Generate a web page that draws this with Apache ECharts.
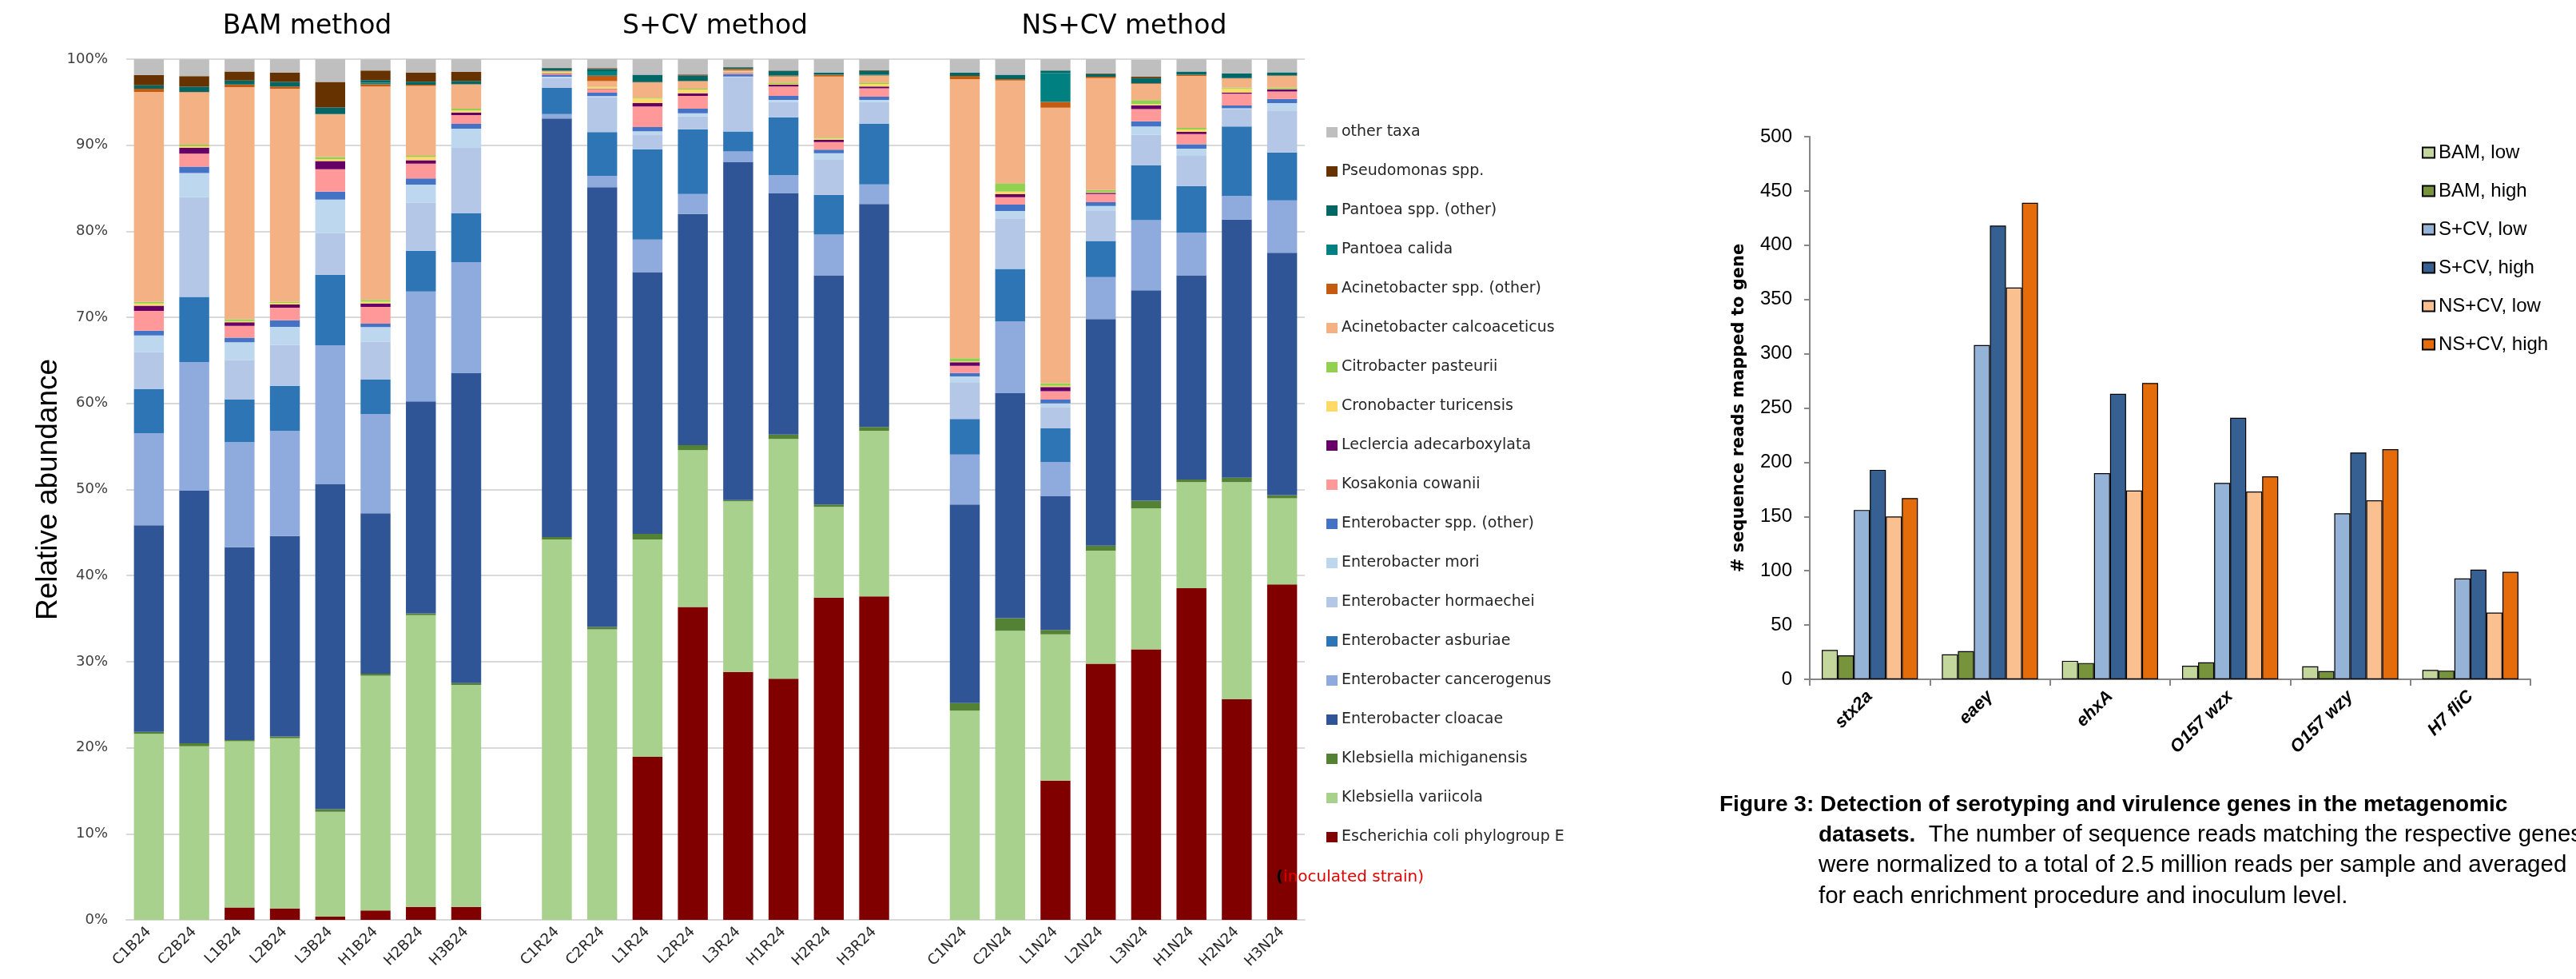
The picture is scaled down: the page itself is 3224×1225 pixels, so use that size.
<!DOCTYPE html>
<html>
<head>
<meta charset="utf-8">
<script src="https://cdn.jsdelivr.net/npm/echarts@6/dist/echarts.min.js"></script>
<style>
  html, body { margin: 0; padding: 0; background: #fff; }
  #chart { width: 3224px; height: 1225px; }
</style>
</head>
<body>
<div id="chart"></div>
<script>
// samples, 8 per enrichment method
const bamSamples = ["C1B24", "C2B24", "L1B24", "L2B24", "L3B24", "H1B24", "H2B24", "H3B24"];
const scvSamples = ["C1R24", "C2R24", "L1R24", "L2R24", "L3R24", "H1R24", "H2R24", "H3R24"];
const nscvSamples = ["C1N24", "C2N24", "L1N24", "L2N24", "L3N24", "H1N24", "H2N24", "H3N24"];

// relative abundance (%), order: BAM x8, S+CV x8, NS+CV x8
const ecoliE = [0, 0, 1.45, 1.3, 0.36, 1.1, 1.52, 1.52, 0, 0, 18.94, 36.36, 28.81, 28.01, 37.45, 37.59, 0, 0, 16.18, 29.75, 31.42, 38.53, 25.62, 38.97];
const klebVariicola = [21.6, 20.17, 19.3, 19.8, 12.19, 27.27, 33.89, 25.77, 44.19, 33.74, 25.25, 18.21, 19.81, 27.87, 10.52, 19.23, 24.31, 33.6, 16.98, 13.14, 16.4, 12.34, 25.25, 10.01];
const klebMichiganensis = [0.25, 0.35, 0.15, 0.2, 0.3, 0.23, 0.2, 0.21, 0.29, 0.29, 0.66, 0.58, 0.15, 0.51, 0.29, 0.44, 0.87, 1.45, 0.51, 0.58, 0.87, 0.29, 0.51, 0.37];
const entCloacae = [24.0, 29.35, 22.4, 23.3, 37.8, 18.64, 24.63, 36.0, 48.62, 51.09, 30.4, 26.85, 39.26, 28.01, 26.63, 25.9, 23.08, 26.13, 15.53, 26.34, 24.46, 23.73, 29.97, 28.15];
const entCancerogenus = [10.7, 14.95, 12.2, 12.2, 16.11, 11.54, 12.77, 12.91, 0.52, 1.33, 3.78, 2.33, 1.24, 2.14, 4.72, 2.29, 5.8, 8.34, 3.99, 4.86, 8.13, 4.94, 2.76, 6.1];
const entAsburiae = [5.1, 7.55, 4.95, 5.25, 8.2, 3.99, 4.72, 5.66, 3.04, 5.08, 10.51, 7.53, 2.32, 6.71, 4.64, 7.03, 4.14, 6.1, 3.92, 4.21, 6.38, 5.44, 8.06, 5.57];
const entHormaechei = [4.3, 11.6, 4.58, 4.74, 4.84, 4.39, 5.58, 7.69, 1.14, 4.05, 1.7, 1.49, 6.35, 1.77, 4.11, 2.54, 4.2, 5.8, 2.47, 3.49, 3.56, 3.5, 2.01, 4.86];
const entMori = [1.95, 2.8, 2.07, 2.11, 3.87, 1.71, 2.11, 2.16, 0.15, 0.12, 0.37, 0.37, 0.05, 0.25, 0.71, 0.24, 0.74, 0.95, 0.43, 0.58, 0.96, 0.83, 0.1, 0.86];
const entOther = [0.55, 0.75, 0.53, 0.77, 0.93, 0.4, 0.72, 0.56, 0.19, 0.4, 0.5, 0.52, 0.26, 0.46, 0.41, 0.38, 0.4, 0.72, 0.43, 0.43, 0.59, 0.5, 0.34, 0.5];
const kosakonia = [2.3, 1.5, 1.39, 1.45, 2.62, 1.95, 1.71, 1.02, 0.15, 0.4, 2.38, 1.49, 0.15, 1.08, 0.89, 0.96, 0.84, 0.86, 0.99, 0.94, 1.42, 1.2, 1.36, 0.86];
const leclercia = [0.6, 0.7, 0.4, 0.37, 0.93, 0.4, 0.4, 0.31, 0.05, 0.05, 0.4, 0.31, 0.05, 0.22, 0.25, 0.22, 0.4, 0.35, 0.47, 0.15, 0.44, 0.25, 0.15, 0.25];
const cronobacter = [0.25, 0.15, 0.15, 0.18, 0.22, 0.2, 0.37, 0.22, 0.1, 0.2, 0.53, 0.4, 0.05, 0.1, 0.16, 0.31, 0.09, 0.3, 0.15, 0.08, 0.15, 0.28, 0.46, 0.05];
const citrobacter = [0.2, 0.2, 0.2, 0.15, 0.25, 0.2, 0.15, 0.22, 0.05, 0.05, 0.09, 0.12, 0.03, 0.15, 0.09, 0.15, 0.37, 0.98, 0.31, 0.25, 0.46, 0.18, 0.12, 0.15];
const acinCalco = [24.4, 6.07, 26.99, 24.74, 5.0, 24.79, 8.11, 2.81, 0.12, 0.65, 1.77, 0.87, 0.18, 0.71, 7.12, 0.8, 32.45, 11.94, 31.99, 13.0, 1.89, 6.04, 1.03, 1.35];
const acinOther = [0.37, 0.05, 0.3, 0.25, 0, 0.3, 0.15, 0.05, 0.05, 0.62, 0.05, 0.05, 0.12, 0.05, 0.21, 0.05, 0.37, 0.15, 0.68, 0.15, 0.05, 0.15, 0.05, 0.05];
const pantoeaCalida = [0, 0, 0, 0, 0, 0.15, 0, 0, 0.05, 0.53, 0, 0, 0.05, 0.05, 0, 0.05, 0, 0, 3.34, 0, 0, 0, 0, 0];
const pantoeaOther = [0.4, 0.6, 0.46, 0.55, 0.77, 0.3, 0.34, 0.35, 0.25, 0.25, 0.87, 0.62, 0.15, 0.53, 0.25, 0.46, 0.37, 0.53, 0.31, 0.31, 0.62, 0.37, 0.56, 0.37];
const pseudomonas = [1.2, 1.24, 1.05, 1.05, 2.97, 1.11, 1.05, 1.05, 0.05, 0.1, 0, 0.12, 0.03, 0.05, 0, 0.05, 0, 0, 0, 0.09, 0.19, 0, 0, 0];
const otherTaxa = [1.9, 1.95, 1.42, 1.58, 2.64, 1.3, 1.58, 1.49, 1.0, 1.1, 1.8, 1.78, 0.92, 1.33, 1.55, 1.31, 1.58, 1.8, 1.33, 1.64, 1.93, 1.43, 1.62, 1.53];

// gene detection (reads mapped per gene)
const genes = ["stx2a", "eaeγ", "ehxA", "O157 wzx", "O157 wzy", "H7 fliC"];
const bamLow = [27, 23, 17, 12.5, 12, 8.7];
const bamHigh = [22, 26, 15, 15.6, 7.6, 8];
const scvLow = [156, 308, 190, 181, 153, 93];
const scvHigh = [193, 418, 263, 241, 209, 101];
const nscvLow = [150, 361, 174, 173, 165, 61.5];
const nscvHigh = [167, 439, 273, 187, 212, 99];

// stack order, bottom to top
const taxa = [
  ["Escherichia coli phylogroup E", ecoliE, "#800000"],
  ["Klebsiella variicola", klebVariicola, "#a9d18e"],
  ["Klebsiella michiganensis", klebMichiganensis, "#548235"],
  ["Enterobacter cloacae", entCloacae, "#2f5597"],
  ["Enterobacter cancerogenus", entCancerogenus, "#8faadc"],
  ["Enterobacter asburiae", entAsburiae, "#2e75b6"],
  ["Enterobacter hormaechei", entHormaechei, "#b4c7e7"],
  ["Enterobacter mori", entMori, "#bdd7ee"],
  ["Enterobacter spp. (other)", entOther, "#4472c4"],
  ["Kosakonia cowanii", kosakonia, "#ff9999"],
  ["Leclercia adecarboxylata", leclercia, "#660066"],
  ["Cronobacter turicensis", cronobacter, "#ffd966"],
  ["Citrobacter pasteurii", citrobacter, "#92d050"],
  ["Acinetobacter calcoaceticus", acinCalco, "#f4b183"],
  ["Acinetobacter spp. (other)", acinOther, "#c55a11"],
  ["Pantoea calida", pantoeaCalida, "#008080"],
  ["Pantoea spp. (other)", pantoeaOther, "#006666"],
  ["Pseudomonas spp.", pseudomonas, "#663300"],
  ["other taxa", otherTaxa, "#bfbfbf"],
];

const geneSeries = [
  ["BAM, low", bamLow, "#c3d69b"],
  ["BAM, high", bamHigh, "#77933c"],
  ["S+CV, low", scvLow, "#95b3d7"],
  ["S+CV, high", scvHigh, "#376092"],
  ["NS+CV, low", nscvLow, "#fac090"],
  ["NS+CV, high", nscvHigh, "#e46c0a"],
];

// one empty slot between method groups
const sampleAxis = [...bamSamples, " ", ...scvSamples, "  ", ...nscvSamples];
function withGaps(arr) {
  return [...arr.slice(0, 8), "-", ...arr.slice(8, 16), "-", ...arr.slice(16)];
}

const chart = echarts.init(document.getElementById("chart"));

const abundanceSeries = taxa.map(([name, values, color]) => ({
  name: name,
  type: "bar",
  stack: "abundance",
  xAxisIndex: 0,
  yAxisIndex: 0,
  barCategoryGap: "34%",
  data: withGaps(values),
  itemStyle: { color: color },
  emphasis: { disabled: true },
}));

const readSeries = geneSeries.map(([name, values, color]) => ({
  name: name,
  type: "bar",
  xAxisIndex: 1,
  yAxisIndex: 1,
  barGap: "0%",
  barCategoryGap: "20%",
  data: values,
  itemStyle: { color: color, borderColor: "#000", borderWidth: 1.2 },
  emphasis: { disabled: true },
}));

const captionFont = '"Liberation Sans Narrow", "Liberation Sans"';

const option = {
  animation: false,
  grid: [
    { left: 158, top: 74, width: 1475, height: 1077 },
    { left: 2265, top: 171, width: 902, height: 679 },
  ],
  legend: [
    {
      data: taxa.map((t) => t[0]).reverse(),
      orient: "vertical",
      left: 1655,
      top: 151,
      icon: "rect",
      itemWidth: 14,
      itemHeight: 13,
      itemGap: 30,
      textStyle: { fontFamily: "DejaVu Sans", fontSize: 19, lineHeight: 19, color: "#262626" },
      selectedMode: false,
    },
    {
      data: geneSeries.map((g) => g[0]),
      orient: "vertical",
      left: 3026,
      top: 174,
      icon: "rect",
      itemWidth: 15,
      itemHeight: 13,
      itemGap: 24,
      textStyle: { fontFamily: "Liberation Sans", fontSize: 24, lineHeight: 24, color: "#000" },
      selectedMode: false,
    },
  ],
  xAxis: [
    {
      type: "category",
      gridIndex: 0,
      data: sampleAxis,
      axisLine: { lineStyle: { color: "#d9d9d9", width: 2 } },
      axisTick: { show: false },
      axisLabel: {
        interval: 0,
        rotate: 45,
        margin: 12,
        fontFamily: "DejaVu Sans",
        fontSize: 18,
        color: "#262626",
      },
    },
    {
      type: "category",
      gridIndex: 1,
      data: genes,
      axisLine: { lineStyle: { color: "#868686", width: 2 } },
      axisTick: { show: true, length: 8, lineStyle: { color: "#868686", width: 2 } },
      axisLabel: {
        interval: 0,
        rotate: 45,
        margin: 18,
        fontFamily: "Liberation Sans",
        fontWeight: "bold",
        fontStyle: "italic",
        fontSize: 22,
        color: "#000",
      },
    },
  ],
  yAxis: [
    {
      type: "value",
      gridIndex: 0,
      min: 0,
      max: 100,
      interval: 10,
      name: "Relative abundance",
      nameLocation: "middle",
      nameGap: 76,
      nameTextStyle: { fontFamily: "Liberation Sans", fontSize: 37, color: "#000" },
      axisLine: { show: false },
      axisTick: { show: false },
      axisLabel: {
        formatter: "{value}%",
        margin: 23,
        fontFamily: "DejaVu Sans",
        fontSize: 18,
        color: "#404040",
      },
      splitLine: { lineStyle: { color: "#d9d9d9", width: 2 } },
    },
    {
      type: "value",
      gridIndex: 1,
      min: 0,
      max: 500,
      interval: 50,
      name: "# sequence reads mapped to gene",
      nameLocation: "middle",
      nameGap: 78,
      nameTextStyle: { fontFamily: "DejaVu Sans", fontWeight: "bold", fontSize: 21, color: "#000" },
      axisLine: { show: true, lineStyle: { color: "#868686", width: 2 } },
      axisTick: { show: true, length: 7, lineStyle: { color: "#868686", width: 2 } },
      axisLabel: { margin: 22, fontFamily: "Liberation Sans", fontSize: 24, color: "#000" },
      splitLine: { show: false },
    },
  ],
  graphic: [
    { type: "text", z: 100, x: 384.5, y: 33, style: { text: "BAM method", font: '33px "DejaVu Sans"', fill: "#000", align: "center", verticalAlign: "middle" } },
    { type: "text", z: 100, x: 895, y: 33, style: { text: "S+CV method", font: '33px "DejaVu Sans"', fill: "#000", align: "center", verticalAlign: "middle" } },
    { type: "text", z: 100, x: 1407, y: 33, style: { text: "NS+CV method", font: '33px "DejaVu Sans"', fill: "#000", align: "center", verticalAlign: "middle" } },
    {
      type: "text",
      z: 100,
      x: 1597,
      y: 1098,
      style: {
        text: "{k|(}{r|inoculated strain)}",
        verticalAlign: "middle",
        rich: {
          k: { fontFamily: "DejaVu Sans", fontSize: 20, fontWeight: "bold", fill: "#000", color: "#000" },
          r: { fontFamily: "DejaVu Sans", fontSize: 20, fill: "#e00000", color: "#e00000" },
        },
      },
    },
    {
      type: "text",
      z: 100,
      x: 2152,
      y: 1007,
      style: {
        text: "Figure 3: Detection of serotyping and virulence genes in the metagenomic",
        font: "bold 28px " + captionFont,
        fill: "#000",
        verticalAlign: "middle",
      },
    },
    {
      type: "text",
      z: 100,
      x: 2276,
      y: 1045,
      style: {
        text: "{b|datasets.}  The number of sequence reads matching the respective genes",
        font: "29.5px " + captionFont,
        fill: "#000",
        verticalAlign: "middle",
        rich: { b: { fontWeight: "bold", fontFamily: captionFont, fontSize: 28 } },
      },
    },
    {
      type: "text",
      z: 100,
      x: 2276,
      y: 1083,
      style: {
        text: "were normalized to a total of 2.5 million reads per sample and averaged",
        font: "29.5px " + captionFont,
        fill: "#000",
        verticalAlign: "middle",
      },
    },
    {
      type: "text",
      z: 100,
      x: 2276,
      y: 1122,
      style: {
        text: "for each enrichment procedure and inoculum level.",
        font: "29.5px " + captionFont,
        fill: "#000",
        verticalAlign: "middle",
      },
    },
  ],
  series: [...abundanceSeries, ...readSeries],
};

chart.setOption(option);
</script>
</body>
</html>
